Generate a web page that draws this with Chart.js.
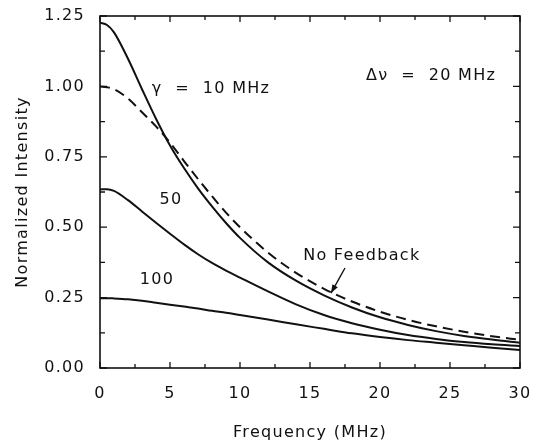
<!DOCTYPE html>
<html>
<head>
<meta charset="utf-8">
<script src="https://cdn.jsdelivr.net/npm/chart.js@4.4.1/dist/chart.umd.min.js"></script>
<style>
  html, body { margin: 0; padding: 0; background: #fff; }
</style>
</head>
<body>
<canvas id="myChart" width="536" height="445"></canvas>
<script>
// frequency (MHz) sample points
var freq = [0, 0.5, 1, 2, 3, 4, 5, 6, 7, 8, 9, 10, 12, 14, 16, 18, 20, 22, 24, 26, 28, 30];

// normalized intensity per curve
var noFeedback = [1.0, 0.997, 0.99, 0.957, 0.908, 0.858, 0.80, 0.735, 0.671, 0.61, 0.552, 0.50, 0.41, 0.338, 0.281, 0.236, 0.20, 0.171, 0.148, 0.129, 0.113, 0.10];
var gamma10 = [1.226, 1.218, 1.192, 1.098, 0.99, 0.885, 0.79, 0.71, 0.638, 0.574, 0.515, 0.462, 0.375, 0.31, 0.258, 0.215, 0.18, 0.153, 0.131, 0.114, 0.101, 0.09];
var gamma50 = [0.634, 0.635, 0.629, 0.596, 0.556, 0.516, 0.477, 0.439, 0.404, 0.373, 0.346, 0.321, 0.272, 0.226, 0.188, 0.159, 0.136, 0.117, 0.103, 0.092, 0.084, 0.078];
var gamma100 = [0.248, 0.248, 0.247, 0.244, 0.239, 0.232, 0.225, 0.218, 0.211, 0.203, 0.196, 0.188, 0.172, 0.155, 0.139, 0.123, 0.11, 0.099, 0.09, 0.081, 0.072, 0.064];

var xTitle = 'Frequency (MHz)';
var yTitle = 'Normalized Intensity';

// text labels inside the plot, placed in data coordinates
var labels = [
    { text: 'γ  =  10 MHz', x: 3.7, y: 0.993, align: 'left' },
    { text: 'Δν  =  20 MHz', x: 19.0, y: 1.039, align: 'left' },
    { text: '50', x: 5.07, y: 0.596, align: 'center' },
    { text: '100', x: 4.07, y: 0.312, align: 'center' },
    { text: 'No Feedback', x: 18.7, y: 0.397, align: 'center' }
];
var arrowFrom = { x: 17.5, y: 0.355 };
var arrowTo = { x: 16.5, y: 0.266 };

var FONT = '"DejaVu Sans", sans-serif';
var INK = '#111';
var SPACING = '1.3px';

function points(ys) {
    return freq.map(function (f, i) { return { x: f, y: ys[i] }; });
}

function curve(ys, dashed) {
    return {
        data: points(ys),
        borderColor: INK,
        borderWidth: 2,
        borderDash: dashed ? [10, 6] : [],
        pointRadius: 0,
        fill: false,
        cubicInterpolationMode: 'monotone'
    };
}

// wider letter spacing only while the tick labels are drawn
var spacingPlugin = {
    id: 'spacing',
    beforeDraw: function (chart) { chart.ctx.letterSpacing = SPACING; },
    beforeDatasetsDraw: function (chart) { chart.ctx.letterSpacing = '0px'; }
};

// frame with inward ticks on all four sides
var framePlugin = {
    id: 'frame',
    afterDatasetsDraw: function (chart) {
        var ctx = chart.ctx;
        var xs = chart.scales.x, ys = chart.scales.y;
        var L = xs.getPixelForValue(0), R = xs.getPixelForValue(30);
        var T = ys.getPixelForValue(1.25), B = ys.getPixelForValue(0);
        ctx.save();
        ctx.letterSpacing = '0px';
        ctx.setLineDash([]);
        ctx.strokeStyle = INK;
        ctx.lineWidth = 1.6;
        ctx.strokeRect(L, T, R - L, B - T);

        ctx.lineWidth = 1.3;
        ctx.beginPath();
        for (var v = 0; v <= 30.001; v += 2.5) {
            var px = xs.getPixelForValue(v);
            var len = (Math.round(v * 2) % 10 === 0) ? 6 : 4;
            ctx.moveTo(px, B); ctx.lineTo(px, B - len);
            ctx.moveTo(px, T); ctx.lineTo(px, T + len);
        }
        for (var w = 0; w <= 1.2501; w += 0.125) {
            var py = ys.getPixelForValue(w);
            var l2 = (Math.round(w * 8) % 2 === 0) ? 7 : 5;
            ctx.moveTo(L, py); ctx.lineTo(L + l2, py);
            ctx.moveTo(R, py); ctx.lineTo(R - l2, py);
        }
        ctx.stroke();
        ctx.restore();
    }
};

// in-plot labels, arrow and axis titles
var textPlugin = {
    id: 'texts',
    afterDraw: function (chart) {
        var ctx = chart.ctx;
        var xs = chart.scales.x, ys = chart.scales.y;
        var L = xs.getPixelForValue(0), R = xs.getPixelForValue(30);
        var T = ys.getPixelForValue(1.25), B = ys.getPixelForValue(0);
        ctx.save();
        ctx.setLineDash([]);
        ctx.fillStyle = INK;
        ctx.strokeStyle = INK;

        // arrow to the dashed curve
        var x1 = xs.getPixelForValue(arrowFrom.x), y1 = ys.getPixelForValue(arrowFrom.y);
        var x2 = xs.getPixelForValue(arrowTo.x), y2 = ys.getPixelForValue(arrowTo.y);
        ctx.lineWidth = 1.4;
        ctx.beginPath(); ctx.moveTo(x1, y1); ctx.lineTo(x2, y2); ctx.stroke();
        var ang = Math.atan2(y2 - y1, x2 - x1);
        ctx.beginPath();
        ctx.moveTo(x2, y2);
        ctx.lineTo(x2 - 9 * Math.cos(ang - 0.35), y2 - 9 * Math.sin(ang - 0.35));
        ctx.lineTo(x2 - 9 * Math.cos(ang + 0.35), y2 - 9 * Math.sin(ang + 0.35));
        ctx.closePath();
        ctx.fill();

        ctx.letterSpacing = SPACING;
        ctx.font = '16px ' + FONT;
        ctx.textBaseline = 'middle';
        labels.forEach(function (lb) {
            ctx.textAlign = lb.align;
            ctx.fillText(lb.text, xs.getPixelForValue(lb.x), ys.getPixelForValue(lb.y));
        });
        ctx.textAlign = 'center';
        ctx.fillText(xTitle, (L + R) / 2, 433);
        ctx.translate(23, (T + B) / 2);
        ctx.rotate(-Math.PI / 2);
        ctx.fillText(yTitle, 0, 0);
        ctx.restore();
        ctx.letterSpacing = '0px';
    }
};

var ctx = document.getElementById('myChart').getContext('2d');
var chart = new Chart(ctx, {
    type: 'line',
    data: {
        datasets: [
            curve(noFeedback, true),
            curve(gamma10, false),
            curve(gamma50, false),
            curve(gamma100, false)
        ]
    },
    options: {
        responsive: false,
        animation: false,
        layout: { padding: { left: 0, top: 16, right: 16, bottom: 0 } },
        plugins: { legend: { display: false }, tooltip: { enabled: false } },
        scales: {
            x: {
                type: 'linear',
                min: 0, max: 30,
                grid: { display: false, drawTicks: false },
                border: { display: false },
                ticks: { stepSize: 5, color: INK, padding: 16, font: { family: FONT, size: 16 } },
                afterFit: function (s) { s.height = 77; s.paddingLeft = 0; s.paddingRight = 0; }
            },
            y: {
                min: 0, max: 1.25,
                grid: { display: false, drawTicks: false },
                border: { display: false },
                ticks: {
                    stepSize: 0.25, color: INK, padding: 15, font: { family: FONT, size: 16 },
                    callback: function (v) { return v.toFixed(2); }
                },
                afterFit: function (s) { s.width = 100; s.paddingTop = 0; s.paddingBottom = 0; }
            }
        }
    },
    plugins: [spacingPlugin, framePlugin, textPlugin]
});
</script>
</body>
</html>
